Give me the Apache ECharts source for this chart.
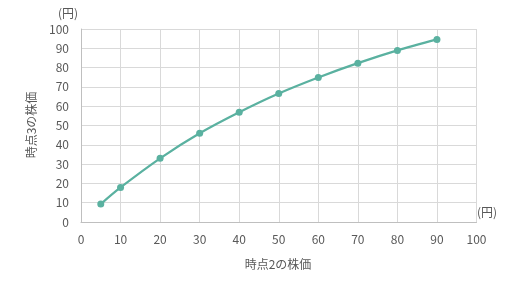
<!DOCTYPE html>
<html><head><meta charset="utf-8">
<script src="https://cdn.jsdelivr.net/npm/echarts@6/dist/echarts.min.js"></script>
<style>html,body{margin:0;padding:0;background:#fff}#c{width:518px;height:288px}</style>
</head><body><div id="c"></div>
<script>
const xValues = [5, 10, 20, 30, 40, 50, 60, 70, 80, 90];
const yValues = [9.3, 17.9, 33.0, 46.0, 56.9, 66.6, 74.9, 82.3, 88.9, 94.6];
const xTitle = '時点2の株価';
const yTitle = '時点3の株価';
const unit = '(円)';

const font = '"Noto Sans CJK JP", sans-serif';
const txt = '#595959';
const chart = echarts.init(document.getElementById('c'));
chart.setOption({
  animation: false,
  grid: {left: 81, right: 41.5, top: 29, bottom: 66},
  xAxis: {
    type: 'value', min: 0, max: 100, interval: 10,
    axisLine: {show: true, lineStyle: {color: '#BFBFBF'}},
    axisTick: {show: false},
    splitLine: {show: true, lineStyle: {color: '#D9D9D9'}},
    axisLabel: {color: txt, fontSize: 12, fontFamily: font, margin: 11}
  },
  yAxis: {
    type: 'value', min: 0, max: 100, interval: 10,
    axisLine: {show: true, lineStyle: {color: '#BFBFBF'}},
    axisTick: {show: false},
    splitLine: {show: true, lineStyle: {color: '#D9D9D9'}},
    axisLabel: {color: txt, fontSize: 12, fontFamily: font, margin: 12}
  },
  graphic: [
    {type: 'text', left: 58, top: 7, style: {text: unit, fill: txt, font: '12px ' + font}},
    {type: 'text', left: 477, top: 206, style: {text: unit, fill: txt, font: '12px ' + font}},
    {type: 'text', x: 278, y: 264, style: {text: xTitle, fill: txt, font: '12px ' + font, align: 'center', verticalAlign: 'middle'}},
    {type: 'text', x: 31, y: 125, rotation: Math.PI / 2, style: {text: yTitle, fill: txt, font: '12px ' + font, align: 'center', verticalAlign: 'middle'}}
  ],
  series: [{
    type: 'line',
    data: xValues.map((x, i) => [x, yValues[i]]),
    smooth: 0.3,
    symbol: 'circle', symbolSize: 7,
    lineStyle: {color: '#5AB1A0', width: 2.25},
    itemStyle: {color: '#5AB1A0'}
  }]
});
</script></body></html>
